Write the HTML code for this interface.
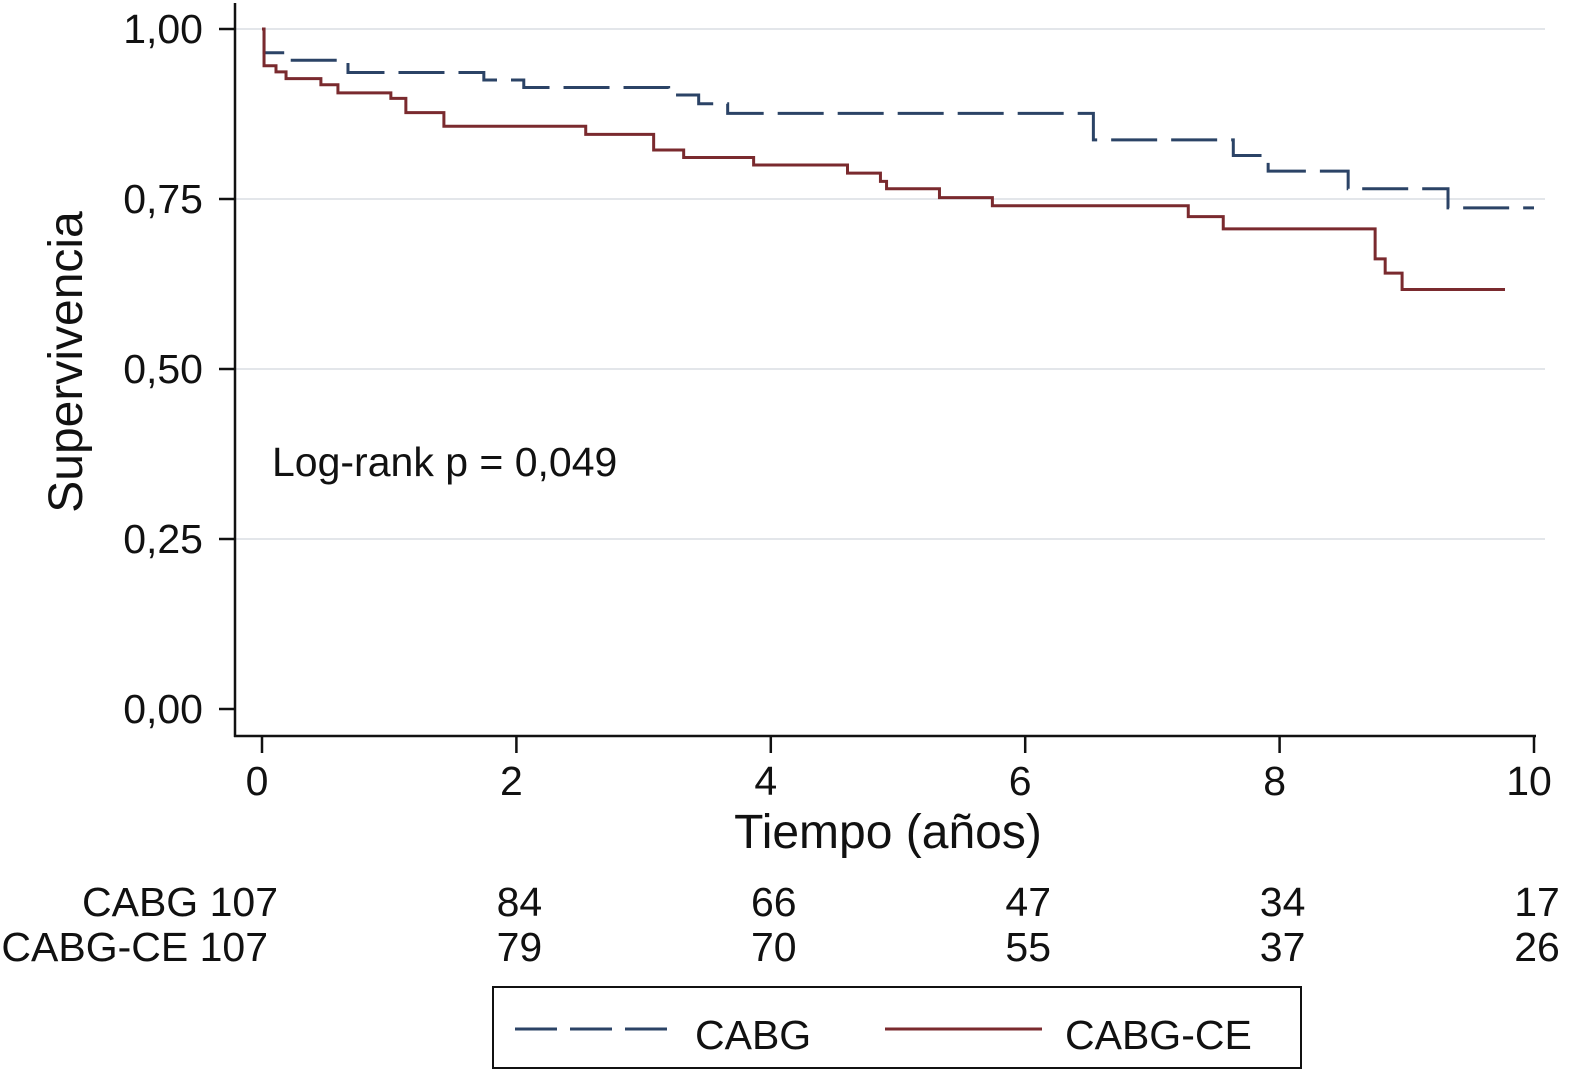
<!DOCTYPE html>
<html><head><meta charset="utf-8"><style>
html,body{margin:0;padding:0;background:#fff;}
svg{display:block;font-family:"Liberation Sans",Arial,sans-serif;}
</style></head><body>
<svg id="chart" width="1575" height="1076" viewBox="0 0 1575 1076">
  <g id="grid"></g>
  <g id="series"></g>
  <line x1="235" y1="3" x2="235" y2="737" stroke="#111" stroke-width="2.5"/>
  <line x1="234" y1="736" x2="1536" y2="736" stroke="#111" stroke-width="2.5"/>
  <g id="yticks"></g>
  <g id="xticks"></g>
  <text x="888" y="848" font-size="48" text-anchor="middle" fill="#111">Tiempo (años)</text>
  <text transform="translate(82,362) rotate(-90)" font-size="48" text-anchor="middle" fill="#111">Supervivencia</text>
  <text x="272" y="476" font-size="41" fill="#111">Log-rank p = 0,049</text>
  <g id="risk"></g>
  <g>
    <rect x="493" y="987" width="808" height="81" fill="#fff" stroke="#111" stroke-width="2"/>
    <line x1="515" y1="1029" x2="672" y2="1029" stroke="#2b4366" stroke-width="3" stroke-dasharray="42,13"/>
    <text x="695" y="1049" font-size="41" fill="#111">CABG</text>
    <line x1="885" y1="1029" x2="1042" y2="1029" stroke="#7a2a2e" stroke-width="3"/>
    <text x="1065" y="1049" font-size="41" fill="#111">CABG-CE</text>
  </g>
</svg>
<script>
const yTicks = [0, 0.25, 0.5, 0.75, 1.0];
const yTickLabels = ["0,00", "0,25", "0,50", "0,75", "1,00"];
const xTicks = [0, 2, 4, 6, 8, 10];
const cabgTimes = [0, 0.016, 0.196, 0.676, 1.744, 2.058, 3.197, 3.433, 3.661, 6.536, 7.636, 7.910, 8.539, 9.324, 10.0];
const cabgSurv  = [1.0, 0.965, 0.954, 0.936, 0.925, 0.914, 0.903, 0.890, 0.876, 0.837, 0.814, 0.791, 0.765, 0.737, 0.737];
const ceTimes = [0, 0.016, 0.110, 0.189, 0.463, 0.597, 1.013, 1.131, 1.430, 2.545, 3.079, 3.315, 3.865, 4.603, 4.862, 4.910, 5.326, 5.742, 7.282, 7.557, 8.751, 8.830, 8.963, 9.772];
const ceSurv  = [1.0, 0.946, 0.937, 0.927, 0.918, 0.906, 0.898, 0.877, 0.857, 0.845, 0.822, 0.811, 0.800, 0.788, 0.776, 0.765, 0.752, 0.740, 0.724, 0.706, 0.662, 0.641, 0.617, 0.617];
const riskGroups = ["CABG 107", "CABG-CE 107"];
const riskTimes = [2, 4, 6, 8, 10];
const riskCabg = [84, 66, 47, 34, 17];
const riskCe = [79, 70, 55, 37, 26];

const NS = "http://www.w3.org/2000/svg";
const xs = t => 262 + t * 127.2;
const ys = s => 709 - s * 680;
function mk(tag, attrs, parent) {
  const e = document.createElementNS(NS, tag);
  for (const k in attrs) e.setAttribute(k, attrs[k]);
  parent.appendChild(e);
  return e;
}
const grid = document.getElementById('grid');
const yt = document.getElementById('yticks');
yTicks.forEach((v, i) => {
  if (v > 0) {
    const g = mk('line', {x1: 236, x2: 1545, y1: ys(v), y2: ys(v), stroke: '#e3e6ea', 'stroke-width': 2}, grid);
    
    
  }
  const t = mk('line', {x1: 219, x2: 235, y1: ys(v), y2: ys(v), stroke: '#111', 'stroke-width': 2.5}, yt);
  
  
  const l = mk('text', {x: 203, y: ys(v) + 14, 'font-size': 41, 'text-anchor': 'end', fill: '#111'}, yt);
  l.textContent = yTickLabels[i];
  
  
});
const xt = document.getElementById('xticks');
xTicks.forEach(v => {
  const t = mk('line', {x1: xs(v), x2: xs(v), y1: 736, y2: 753, stroke: '#111', 'stroke-width': 2.5}, xt);
  
  
  const l = mk('text', {x: xs(v) - 5, y: 795, 'font-size': 41, 'text-anchor': 'middle', fill: '#111'}, xt);
  l.textContent = v;
  
  
});
function stepPath(ts, ss) {
  let d = 'M' + xs(ts[0]) + ' ' + ys(ss[0]);
  for (let i = 1; i < ts.length; i++) {
    d += ' H' + xs(ts[i]) + ' V' + ys(ss[i]);
  }
  return d;
}
const ser = document.getElementById('series');
const p1 = mk('path', {d: stepPath(cabgTimes, cabgSurv), fill: 'none', stroke: '#2b4366', 'stroke-width': 3, 'stroke-dasharray': '46,14'}, ser);


const p2 = mk('path', {d: stepPath(ceTimes, ceSurv), fill: 'none', stroke: '#7a2a2e', 'stroke-width': 3}, ser);


const risk = document.getElementById('risk');
[riskCabg, riskCe].forEach((row, r) => {
  const y = 916 + r * 45;
  const g = mk('text', {x: 278 - r * 10, y: y, 'font-size': 41, 'text-anchor': 'end', fill: '#111'}, risk);
  g.textContent = riskGroups[r];
  
  
  row.forEach((n, i) => {
    const t = mk('text', {x: xs(riskTimes[i]) + 3, y: y, 'font-size': 41, 'text-anchor': 'middle', fill: '#111'}, risk);
    t.textContent = n;
    
    
  });
});
</script>
</body></html>
